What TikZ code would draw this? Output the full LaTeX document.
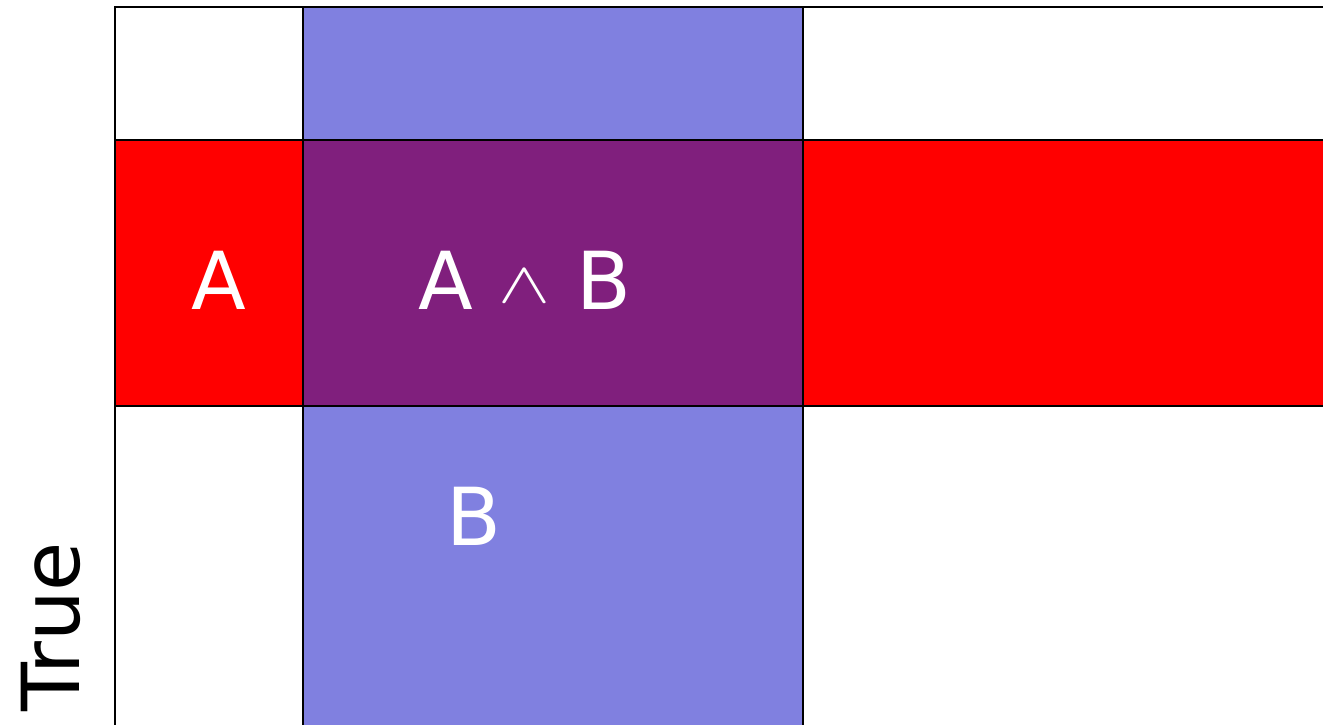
\documentclass[tikz,border=0pt]{standalone}
\usepackage{fontspec}
\setmainfont{DejaVu Sans}
\definecolor{cblue}{RGB}{128,128,224}
\definecolor{cred}{RGB}{255,0,0}
\definecolor{cpurple}{RGB}{128,31,125}
\tikzset{
  gridline/.style={draw=black,line width=1.8pt},
  lbl/.style={text=white,font=\fontsize{80}{80}\selectfont,anchor=base,inner sep=0pt},
}
\begin{document}
\begin{tikzpicture}[x=1pt,y=-1pt]
\useasboundingbox (0,0) rectangle (1323,725);
\begin{scope}
\clip (0,0) rectangle (1323,725);
\fill[cblue] (303,7) rectangle (803,740);
\fill[cred] (115,140) rectangle (1340,406);
\fill[cpurple] (303,140) rectangle (803,406);
\draw[gridline] (115,740) -- (115,7) -- (1340,7);
\draw[gridline] (115,140) -- (1340,140);
\draw[gridline] (115,406) -- (1340,406);
\draw[gridline] (303,7) -- (303,740);
\draw[gridline] (803,7) -- (803,740);
\end{scope}
\node[lbl] (a) at (219,309) {A};
\node[lbl] (ab) at (525,309) {A \raisebox{6pt}{\scalebox{7.8}[5.8]{\fontsize{10}{12}\selectfont$\wedge$}} B};
\node[lbl] (b) at (474,545) {B};
\node[lbl,text=black,rotate=90] (t) at (79,627) {True};
\end{tikzpicture}
\end{document}
